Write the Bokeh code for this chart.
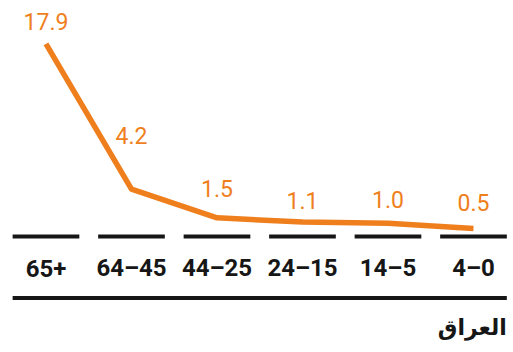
from bokeh.plotting import figure
from bokeh.models import Range1d, ColumnDataSource
from bokeh.core.properties import value
from bokeh.embed import file_html
from bokeh.resources import INLINE

# Age groups (right-to-left reading order as printed) and their values
age_groups = ["65+", "64–45", "44–25", "24–15", "14–5", "4–0"]
rates = [17.9, 4.2, 1.5, 1.1, 1.0, 0.5]
value_labels = ["17.9", "4.2", "1.5", "1.1", "1.0", "0.5"]
country = "العراق"

ORANGE = "#EF7F1D"
INK = "#161616"
NUM_FONT = "Roboto"

xs = list(range(len(age_groups)))
label_lift = [-22, -54, -29, -22, -24, -26]  # pixel lift of each value label

src = ColumnDataSource(dict(x=xs, y=rates, lab=value_labels, lift=label_lift,
                            cat=age_groups,
                            x0=[x - 0.39 for x in xs], x1=[x + 0.39 for x in xs]))

p = figure(width=513, height=352, output_backend="svg", toolbar_location=None,
           x_range=Range1d(-0.532, 5.468), y_range=Range1d(-11.2, 22.0),
           min_border=0, outline_line_color=None, background_fill_color="white",
           border_fill_color="white")
p.axis.visible = False
p.grid.visible = False

# short rules under each age group
p.segment(x0="x0", y0=-0.25, x1="x1", y1=-0.25, source=src,
          line_color=INK, line_width=4)

# closing rule under the age labels
p.segment(x0=[xs[0] - 0.39], y0=[-6.05], x1=[xs[-1] + 0.39], y1=[-6.05],
          line_color=INK, line_width=4)

# the series
p.line(x="x", y="y", source=src, line_color=ORANGE, line_width=5.5,
       line_join="round")

# value labels
p.text(x="x", y="y", text="lab", source=src, y_offset="lift",
       text_align="center", text_baseline="middle",
       text_font=value(NUM_FONT), text_font_size="23px", text_color=ORANGE)

# age group labels
p.text(x="x", y=-3.25, text="cat", source=src,
       text_align="center", text_baseline="middle",
       text_font=value(NUM_FONT), text_font_style="bold",
       text_font_size="24px", text_color=INK)

# country caption
p.text(x=[xs[-1] + 0.39], y=[-8.8], text=[country],
       text_align="right", text_baseline="middle",
       text_font=value("DejaVu Sans"), text_font_style="bold",
       text_font_size="22px", text_color=INK)

open("out.html", "w").write(file_html(p, INLINE))
